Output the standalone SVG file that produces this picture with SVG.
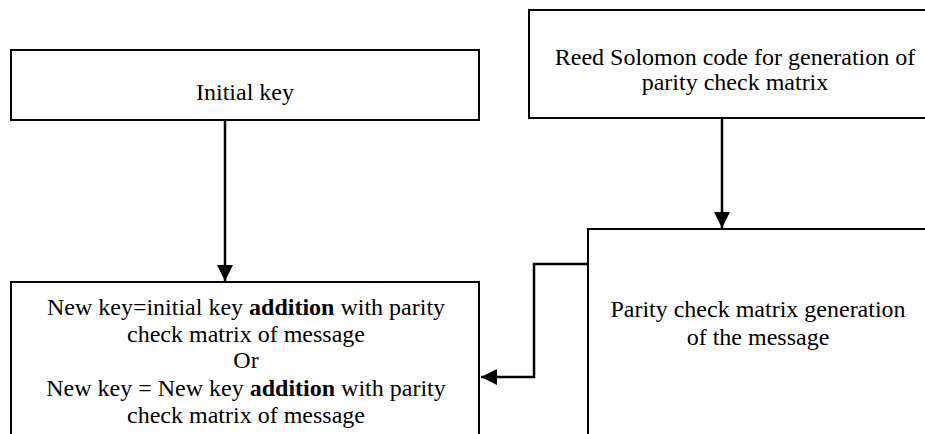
<svg xmlns="http://www.w3.org/2000/svg" width="925" height="434" viewBox="0 0 925 434">
<defs>
<marker id="ah" markerWidth="16" markerHeight="16" viewBox="0 0 16 16" refX="16" refY="8" orient="auto" markerUnits="userSpaceOnUse">
<path d="M0,0 L16,8 L0,16 Z" fill="#000"/>
</marker>
<style>
.box{fill:#fff;stroke:#000;stroke-width:2}
.t{font-family:"Liberation Serif","Times New Roman",serif;font-size:24px;fill:#000;text-anchor:middle}
.b{font-weight:bold}
.c{fill:none;stroke:#000;stroke-width:2.5}
</style>
</defs>
<rect width="925" height="434" fill="#fff"/>
<g id="initial-key">
<rect class="box" x="11" y="50" width="468" height="70"/>
<text class="t" x="245" y="100">Initial key</text>
</g>
<g id="reed-solomon">
<rect class="box" x="529" y="10" width="410" height="108"/>
<text class="t" x="735" y="65">Reed Solomon code for generation of</text>
<text class="t" x="735" y="90">parity check matrix</text>
</g>
<g id="parity-generation">
<rect class="box" x="588" y="229" width="350" height="220"/>
<text class="t" x="758" y="317">Parity check matrix generation</text>
<text class="t" x="758" y="345">of the message</text>
</g>
<g id="new-key">
<rect class="box" x="11" y="282" width="468" height="170"/>
<text class="t" x="246" y="315">New key=initial key <tspan class="b">addition</tspan> with parity</text>
<text class="t" x="246" y="342">check matrix of message</text>
<text class="t" x="246" y="368">Or</text>
<text class="t" x="246" y="396">New key = New key <tspan class="b">addition</tspan> with parity</text>
<text class="t" x="246" y="423">check matrix of message</text>
</g>
<g id="connectors">
<line class="c" x1="225" y1="120" x2="225" y2="281" marker-end="url(#ah)"/>
<line class="c" x1="722" y1="118" x2="722" y2="228" marker-end="url(#ah)"/>
<polyline class="c" points="588,264 534,264 534,377 481,377" marker-end="url(#ah)"/>
</g>
</svg>
